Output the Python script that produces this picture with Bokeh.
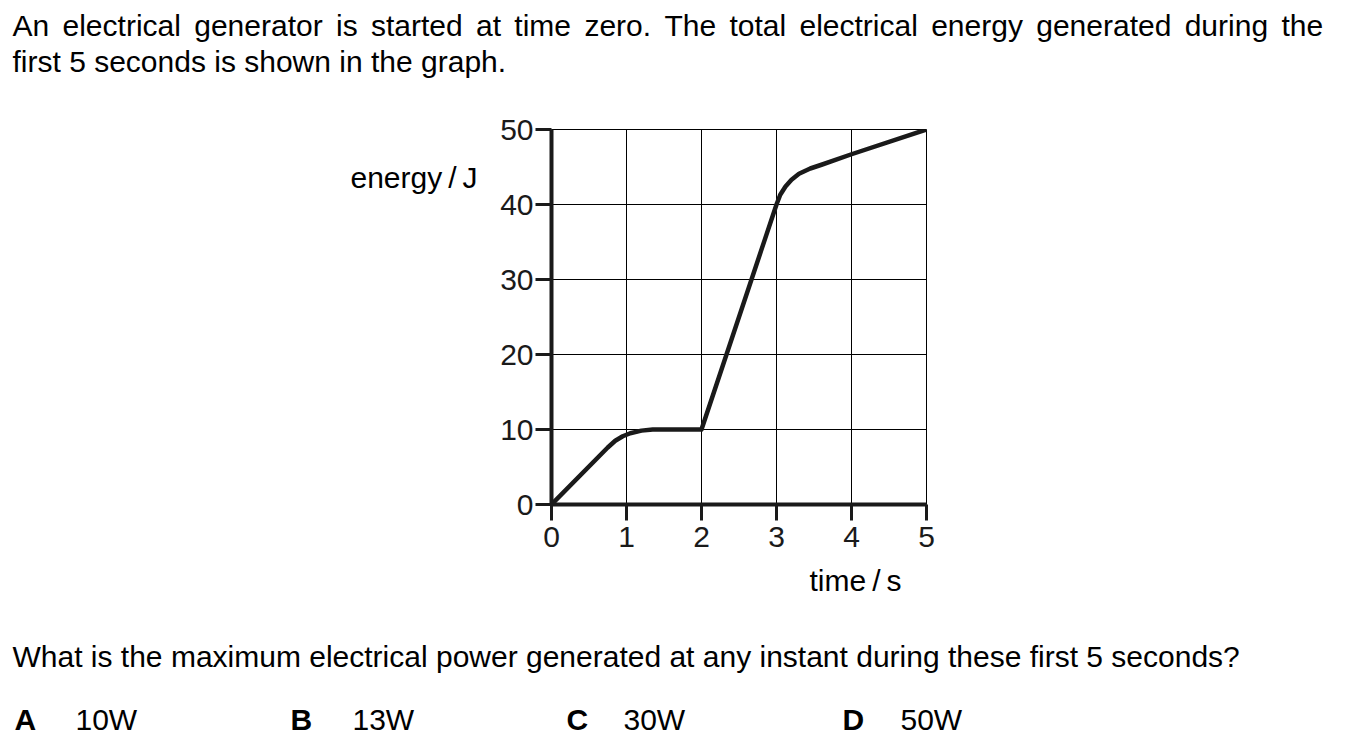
from bokeh.plotting import figure
from bokeh.models import Range1d, FixedTicker
from bokeh.layouts import column, row
from bokeh.core.properties import value
from bokeh.embed import file_html
from bokeh.resources import INLINE

# ---- data ----
time_s = [0, 0.75, 0.85, 0.95, 1.05, 1.2, 1.35, 2.0, 3.0, 3.05, 3.12, 3.2, 3.3, 3.45, 3.6, 4.0, 5.0]
energy_J = [0, 7.6, 8.5, 9.1, 9.5, 9.85, 10, 10, 40, 41.3, 42.4, 43.3, 44.1, 44.8, 45.3, 46.7, 50]
x_ticks = [0, 1, 2, 3, 4, 5]
y_ticks = [0, 10, 20, 30, 40, 50]

# first line is justified in the original: a six-per-em space widens each gap
SP = " \u2006"
intro = [SP.join("An electrical generator is started at time zero. The total electrical energy generated during the".split(" ")),
         "first 5 seconds is shown in the graph."]
question = "What is the maximum electrical power generated at any instant during these first 5 seconds?"
option_letters = ["A", "B", "C", "D"]
option_values = ["10W", "13W", "30W", "50W"]
y_label = "energy\u2009/\u2009J"
x_label = "time\u2009/\u2009s"

FONT = "Liberation Sans"
INK = "#1a1a1a"
FS = "30px"
W, H = 1347, 747
FL, FR, FT, FB = 551, 926, 129, 504   # plot frame edges on the page
MID_TOP, MID_BOT, MID_LEFT = 100, 560, 480


def text_fig(x0, y0, w, h):
    f = figure(width=w, height=h, output_backend="svg", toolbar_location=None, title=None,
               x_range=Range1d(x0, x0 + w), y_range=Range1d(y0 + h, y0),
               x_axis_location=None, y_axis_location=None,
               min_border=0, min_border_left=0, min_border_right=0,
               min_border_top=0, min_border_bottom=0)
    f.grid.visible = False
    f.outline_line_color = None
    f.background_fill_color = "white"
    f.border_fill_color = "white"
    return f


def put(f, txt, px, py, size=FS, style="normal"):
    f.text(x=[px], y=[py], text=[txt], text_font=value(FONT), text_font_size=value(size),
           text_font_style=style, text_color="black", text_align="left",
           text_baseline="alphabetic")


# ---- top text ----
top = text_fig(0, 0, W, MID_TOP)
put(top, intro[0], 12, 25)
put(top, intro[1], 12, 61)

# ---- left text (y axis title) ----
left = text_fig(0, MID_TOP, MID_LEFT, MID_BOT - MID_TOP)
put(left, y_label, 350, 159)

# ---- chart ----
p = figure(width=W - MID_LEFT, height=MID_BOT - MID_TOP, output_backend="svg",
           toolbar_location=None, title=None, x_range=Range1d(0, 5), y_range=Range1d(0, 50),
           min_border_left=FL - MID_LEFT, min_border_right=W - FR,
           min_border_top=FT - MID_TOP, min_border_bottom=MID_BOT - FB)
p.background_fill_color = "white"
p.border_fill_color = "white"
p.outline_line_color = "black"
p.outline_line_width = 1

for ax, ticks in ((p.xaxis[0], x_ticks), (p.yaxis[0], y_ticks)):
    ax.ticker = FixedTicker(ticks=ticks)
    ax.axis_line_width = 4
    ax.axis_line_color = INK
    ax.major_tick_line_width = 3
    ax.major_tick_line_color = INK
    ax.major_tick_out = 16
    ax.major_tick_in = 0
    ax.minor_tick_line_color = None
    ax.major_label_text_font = FONT
    ax.major_label_text_font_size = FS
    ax.major_label_text_color = INK
p.xaxis.major_label_standoff = 6
p.yaxis.major_label_standoff = 2

p.xgrid.ticker = FixedTicker(ticks=x_ticks)
p.ygrid.ticker = FixedTicker(ticks=y_ticks)
for g in (p.xgrid[0], p.ygrid[0]):
    g.grid_line_color = "black"
    g.grid_line_width = 1
    g.grid_line_alpha = 1

p.line(time_s, energy_J, line_width=4.5, line_color=INK, line_join="round", line_cap="round")

# ---- bottom text ----
bottom = text_fig(0, MID_BOT, W, H - MID_BOT)
put(bottom, x_label, 809, 580)
put(bottom, question, 12, 656)
letter_px = [14, 290, 566, 842]
value_px = [75, 352, 623, 900]
for L, V, lx, vx in zip(option_letters, option_values, letter_px, value_px):
    put(bottom, L, lx, 719, style="bold")
    put(bottom, V, vx, 719)

layout = column(top, row(left, p, spacing=0), bottom, spacing=0)
open("out.html", "w").write(file_html(layout, INLINE))
